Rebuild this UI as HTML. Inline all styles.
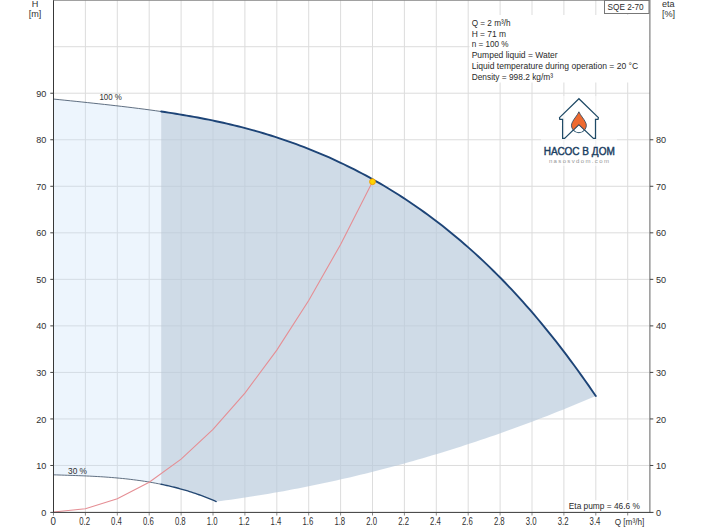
<!DOCTYPE html>
<html><head><meta charset="utf-8"><style>
html,body{margin:0;padding:0;background:#fff;}
body{width:704px;height:528px;overflow:hidden;font-family:"Liberation Sans",sans-serif;}
svg{display:block;}
text{font-family:"Liberation Sans",sans-serif;}
</style></head><body>
<svg width="704" height="528" viewBox="0 0 704 528">
<rect width="704" height="528" fill="#fff"/>
<g stroke="#cdcdcd" stroke-width="1" opacity="0.68">
<line x1="85.40" y1="0" x2="85.40" y2="512"/>
<line x1="117.30" y1="0" x2="117.30" y2="512"/>
<line x1="149.20" y1="0" x2="149.20" y2="512"/>
<line x1="181.10" y1="0" x2="181.10" y2="512"/>
<line x1="213.00" y1="0" x2="213.00" y2="512"/>
<line x1="244.90" y1="0" x2="244.90" y2="512"/>
<line x1="276.80" y1="0" x2="276.80" y2="512"/>
<line x1="308.70" y1="0" x2="308.70" y2="512"/>
<line x1="340.60" y1="0" x2="340.60" y2="512"/>
<line x1="372.50" y1="0" x2="372.50" y2="512"/>
<line x1="404.40" y1="0" x2="404.40" y2="512"/>
<line x1="436.30" y1="0" x2="436.30" y2="512"/>
<line x1="468.20" y1="0" x2="468.20" y2="512"/>
<line x1="500.10" y1="0" x2="500.10" y2="512"/>
<line x1="532.00" y1="0" x2="532.00" y2="512"/>
<line x1="563.90" y1="0" x2="563.90" y2="512"/>
<line x1="595.80" y1="0" x2="595.80" y2="512"/>
<line x1="627.70" y1="0" x2="627.70" y2="512"/>
<line x1="53.5" y1="465.47" x2="650" y2="465.47"/>
<line x1="53.5" y1="418.94" x2="650" y2="418.94"/>
<line x1="53.5" y1="372.41" x2="650" y2="372.41"/>
<line x1="53.5" y1="325.88" x2="650" y2="325.88"/>
<line x1="53.5" y1="279.35" x2="650" y2="279.35"/>
<line x1="53.5" y1="232.82" x2="650" y2="232.82"/>
<line x1="53.5" y1="186.29" x2="650" y2="186.29"/>
<line x1="53.5" y1="139.76" x2="650" y2="139.76"/>
<line x1="53.5" y1="93.23" x2="650" y2="93.23"/>
<line x1="53.5" y1="46.70" x2="650" y2="46.70"/>
</g>
<polygon points="53.50,99.06 59.17,99.64 64.83,100.21 70.50,100.80 76.17,101.39 81.83,101.98 87.50,102.58 93.17,103.19 98.83,103.80 104.50,104.43 110.16,105.06 115.83,105.71 121.50,106.36 127.16,107.04 132.83,107.73 138.50,108.44 144.16,109.17 149.83,109.93 155.50,110.71 161.16,111.52 161.16,484.27 158.40,483.72 155.64,483.19 152.88,482.69 150.12,482.20 147.36,481.74 144.60,481.30 141.84,480.89 139.08,480.49 136.32,480.11 133.56,479.75 130.80,479.41 128.04,479.09 125.28,478.78 122.51,478.49 119.75,478.22 116.99,477.96 114.23,477.72 111.47,477.49 108.71,477.28 105.95,477.08 103.19,476.89 100.43,476.71 97.67,476.55 94.91,476.40 92.15,476.25 89.39,476.12 86.63,475.99 83.87,475.87 81.11,475.76 78.35,475.65 75.58,475.55 72.82,475.46 70.06,475.36 67.30,475.27 64.54,475.18 61.78,475.09 59.02,475.00 56.26,474.92 53.50,474.84" fill="#c3defa" fill-opacity="0.3"/>
<polygon points="161.16,111.52 164.81,112.06 168.47,112.61 172.12,113.17 175.77,113.75 179.42,114.34 183.08,114.95 186.73,115.57 190.38,116.21 194.03,116.87 197.69,117.54 201.34,118.24 204.99,118.95 208.64,119.68 212.30,120.43 215.95,121.20 219.60,121.99 223.25,122.80 226.91,123.63 230.56,124.49 234.21,125.37 237.86,126.27 241.52,127.19 245.17,128.14 248.82,129.11 252.47,130.11 256.13,131.14 259.78,132.18 263.43,133.26 267.08,134.36 270.73,135.49 274.39,136.64 278.04,137.83 281.69,139.04 285.34,140.28 289.00,141.54 292.65,142.84 296.30,144.17 299.95,145.52 303.61,146.91 307.26,148.33 310.91,149.78 314.56,151.26 318.22,152.77 321.87,154.31 325.52,155.88 329.17,157.49 332.83,159.13 336.48,160.81 340.13,162.52 343.78,164.26 347.44,166.04 351.09,167.85 354.74,169.70 358.39,171.58 362.05,173.50 365.70,175.45 369.35,177.45 373.00,179.48 376.66,181.55 380.31,183.65 383.96,185.80 387.61,187.99 391.26,190.21 394.92,192.48 398.57,194.78 402.22,197.13 405.87,199.52 409.53,201.95 413.18,204.43 416.83,206.95 420.48,209.51 424.14,212.11 427.79,214.77 431.44,217.47 435.09,220.21 438.75,223.00 442.40,225.84 446.05,228.73 449.70,231.67 453.36,234.65 457.01,237.69 460.66,240.78 464.31,243.91 467.97,247.11 471.62,250.35 475.27,253.65 478.92,257.00 482.58,260.41 486.23,263.87 489.88,267.39 493.53,270.96 497.18,274.59 500.84,278.28 504.49,282.03 508.14,285.84 511.79,289.71 515.45,293.63 519.10,297.62 522.75,301.67 526.40,305.78 530.06,309.96 533.71,314.19 537.36,318.49 541.01,322.86 544.67,327.28 548.32,331.78 551.97,336.33 555.62,340.95 559.28,345.63 562.93,350.38 566.58,355.19 570.23,360.07 573.89,365.01 577.54,370.02 581.19,375.08 584.84,380.22 588.50,385.41 592.15,390.67 595.80,395.98 595.80,395.98 590.99,398.03 586.19,400.06 581.38,402.07 576.58,404.06 571.77,406.04 566.97,407.99 562.16,409.93 557.36,411.85 552.55,413.75 547.75,415.63 542.94,417.50 538.14,419.34 533.33,421.17 528.53,422.98 523.72,424.77 518.92,426.55 514.11,428.30 509.31,430.04 504.50,431.76 499.70,433.46 494.89,435.14 490.09,436.81 485.28,438.45 480.48,440.08 475.67,441.69 470.87,443.28 466.06,444.86 461.25,446.41 456.45,447.95 451.64,449.47 446.84,450.97 442.03,452.45 437.23,453.91 432.42,455.36 427.62,456.78 422.81,458.19 418.01,459.59 413.20,460.96 408.40,462.31 403.59,463.65 398.79,464.97 393.98,466.27 389.18,467.55 384.37,468.81 379.57,470.06 374.76,471.28 369.96,472.49 365.15,473.68 360.35,474.86 355.54,476.01 350.74,477.15 345.93,478.26 341.12,479.36 336.32,480.45 331.51,481.51 326.71,482.55 321.90,483.58 317.10,484.59 312.29,485.58 307.49,486.55 302.68,487.50 297.88,488.44 293.07,489.36 288.27,490.26 283.46,491.14 278.66,492.00 273.85,492.85 269.05,493.67 264.24,494.48 259.44,495.27 254.63,496.04 249.83,496.79 245.02,497.53 240.22,498.25 235.41,498.95 230.61,499.63 225.80,500.29 221.00,500.93 216.19,501.56 216.19,501.56 214.29,500.73 212.40,499.92 210.50,499.13 208.60,498.36 206.70,497.60 204.81,496.86 202.91,496.14 201.01,495.43 199.11,494.75 197.22,494.08 195.32,493.42 193.42,492.79 191.52,492.17 189.62,491.56 187.73,490.97 185.83,490.40 183.93,489.84 182.03,489.30 180.14,488.78 178.24,488.27 176.34,487.77 174.44,487.28 172.55,486.82 170.65,486.36 168.75,485.92 166.86,485.49 164.96,485.07 163.06,484.66 161.16,484.27" fill="#b7c9db" fill-opacity="0.67"/>
<rect x="469.5" y="15" width="180" height="67.5" fill="#fff"/>
<rect x="566" y="500.3" width="83.3" height="11.4" fill="#fff"/>
<polyline points="53.50,99.06 59.17,99.64 64.83,100.21 70.50,100.80 76.17,101.39 81.83,101.98 87.50,102.58 93.17,103.19 98.83,103.80 104.50,104.43 110.16,105.06 115.83,105.71 121.50,106.36 127.16,107.04 132.83,107.73 138.50,108.44 144.16,109.17 149.83,109.93 155.50,110.71 161.16,111.52" fill="none" stroke="#44566c" stroke-width="0.85"/>
<polyline points="53.50,474.84 56.26,474.92 59.02,475.00 61.78,475.09 64.54,475.18 67.30,475.27 70.06,475.36 72.82,475.46 75.58,475.55 78.35,475.65 81.11,475.76 83.87,475.87 86.63,475.99 89.39,476.12 92.15,476.25 94.91,476.40 97.67,476.55 100.43,476.71 103.19,476.89 105.95,477.08 108.71,477.28 111.47,477.49 114.23,477.72 116.99,477.96 119.75,478.22 122.51,478.49 125.28,478.78 128.04,479.09 130.80,479.41 133.56,479.75 136.32,480.11 139.08,480.49 141.84,480.89 144.60,481.30 147.36,481.74 150.12,482.20 152.88,482.69 155.64,483.19 158.40,483.72 161.16,484.27" fill="none" stroke="#44566c" stroke-width="0.85"/>
<polyline points="53.50,512.00 85.40,508.70 117.30,498.79 149.20,482.27 181.10,459.14 213.00,429.41 244.90,393.07 276.80,350.12 308.70,300.57 340.60,244.41 372.50,181.64" fill="none" stroke="#e58e94" stroke-width="1.1"/>
<polyline points="161.16,111.52 164.81,112.06 168.47,112.61 172.12,113.17 175.77,113.75 179.42,114.34 183.08,114.95 186.73,115.57 190.38,116.21 194.03,116.87 197.69,117.54 201.34,118.24 204.99,118.95 208.64,119.68 212.30,120.43 215.95,121.20 219.60,121.99 223.25,122.80 226.91,123.63 230.56,124.49 234.21,125.37 237.86,126.27 241.52,127.19 245.17,128.14 248.82,129.11 252.47,130.11 256.13,131.14 259.78,132.18 263.43,133.26 267.08,134.36 270.73,135.49 274.39,136.64 278.04,137.83 281.69,139.04 285.34,140.28 289.00,141.54 292.65,142.84 296.30,144.17 299.95,145.52 303.61,146.91 307.26,148.33 310.91,149.78 314.56,151.26 318.22,152.77 321.87,154.31 325.52,155.88 329.17,157.49 332.83,159.13 336.48,160.81 340.13,162.52 343.78,164.26 347.44,166.04 351.09,167.85 354.74,169.70 358.39,171.58 362.05,173.50 365.70,175.45 369.35,177.45 373.00,179.48 376.66,181.55 380.31,183.65 383.96,185.80 387.61,187.99 391.26,190.21 394.92,192.48 398.57,194.78 402.22,197.13 405.87,199.52 409.53,201.95 413.18,204.43 416.83,206.95 420.48,209.51 424.14,212.11 427.79,214.77 431.44,217.47 435.09,220.21 438.75,223.00 442.40,225.84 446.05,228.73 449.70,231.67 453.36,234.65 457.01,237.69 460.66,240.78 464.31,243.91 467.97,247.11 471.62,250.35 475.27,253.65 478.92,257.00 482.58,260.41 486.23,263.87 489.88,267.39 493.53,270.96 497.18,274.59 500.84,278.28 504.49,282.03 508.14,285.84 511.79,289.71 515.45,293.63 519.10,297.62 522.75,301.67 526.40,305.78 530.06,309.96 533.71,314.19 537.36,318.49 541.01,322.86 544.67,327.28 548.32,331.78 551.97,336.33 555.62,340.95 559.28,345.63 562.93,350.38 566.58,355.19 570.23,360.07 573.89,365.01 577.54,370.02 581.19,375.08 584.84,380.22 588.50,385.41 592.15,390.67 595.80,395.98" fill="none" stroke="#1d4477" stroke-width="1.9" stroke-linecap="round"/>
<polyline points="161.16,484.27 163.06,484.66 164.96,485.07 166.86,485.49 168.75,485.92 170.65,486.36 172.55,486.82 174.44,487.28 176.34,487.77 178.24,488.27 180.14,488.78 182.03,489.30 183.93,489.84 185.83,490.40 187.73,490.97 189.62,491.56 191.52,492.17 193.42,492.79 195.32,493.42 197.22,494.08 199.11,494.75 201.01,495.43 202.91,496.14 204.81,496.86 206.70,497.60 208.60,498.36 210.50,499.13 212.40,499.92 214.29,500.73 216.19,501.56" fill="none" stroke="#234772" stroke-width="1.35" stroke-linecap="round"/>
<circle cx="372.5" cy="181.7" r="2.9" fill="#ffd400" stroke="#f0a000" stroke-width="1"/>
<g stroke="#383838" stroke-width="1.2">
<line x1="53.5" y1="0" x2="53.5" y2="512.6" stroke-width="1"/>
<line x1="649.9" y1="0" x2="649.9" y2="512.6" stroke="#6a6a6a" stroke-width="1.05"/>
<line x1="53" y1="512.4" x2="653.5" y2="512.4" stroke-width="1"/>
</g>
<line x1="53.5" y1="0.3" x2="650" y2="0.3" stroke="#8a8a8a" stroke-width="1"/>
<g stroke="#444" stroke-width="1">
<line x1="53.50" y1="513" x2="53.50" y2="515.5" stroke="#8a8a8a"/>
<line x1="85.40" y1="513" x2="85.40" y2="515.5" stroke="#8a8a8a"/>
<line x1="117.30" y1="513" x2="117.30" y2="515.5" stroke="#8a8a8a"/>
<line x1="149.20" y1="513" x2="149.20" y2="515.5" stroke="#8a8a8a"/>
<line x1="181.10" y1="513" x2="181.10" y2="515.5" stroke="#8a8a8a"/>
<line x1="213.00" y1="513" x2="213.00" y2="515.5" stroke="#8a8a8a"/>
<line x1="244.90" y1="513" x2="244.90" y2="515.5" stroke="#8a8a8a"/>
<line x1="276.80" y1="513" x2="276.80" y2="515.5" stroke="#8a8a8a"/>
<line x1="308.70" y1="513" x2="308.70" y2="515.5" stroke="#8a8a8a"/>
<line x1="340.60" y1="513" x2="340.60" y2="515.5" stroke="#8a8a8a"/>
<line x1="372.50" y1="513" x2="372.50" y2="515.5" stroke="#8a8a8a"/>
<line x1="404.40" y1="513" x2="404.40" y2="515.5" stroke="#8a8a8a"/>
<line x1="436.30" y1="513" x2="436.30" y2="515.5" stroke="#8a8a8a"/>
<line x1="468.20" y1="513" x2="468.20" y2="515.5" stroke="#8a8a8a"/>
<line x1="500.10" y1="513" x2="500.10" y2="515.5" stroke="#8a8a8a"/>
<line x1="532.00" y1="513" x2="532.00" y2="515.5" stroke="#8a8a8a"/>
<line x1="563.90" y1="513" x2="563.90" y2="515.5" stroke="#8a8a8a"/>
<line x1="595.80" y1="513" x2="595.80" y2="515.5" stroke="#8a8a8a"/>
<line x1="627.70" y1="513" x2="627.70" y2="515.5" stroke="#8a8a8a"/>
<line x1="50.3" y1="465.47" x2="53.5" y2="465.47"/>
<line x1="50.3" y1="418.94" x2="53.5" y2="418.94"/>
<line x1="50.3" y1="372.41" x2="53.5" y2="372.41"/>
<line x1="50.3" y1="325.88" x2="53.5" y2="325.88"/>
<line x1="50.3" y1="279.35" x2="53.5" y2="279.35"/>
<line x1="50.3" y1="232.82" x2="53.5" y2="232.82"/>
<line x1="50.3" y1="186.29" x2="53.5" y2="186.29"/>
<line x1="50.3" y1="139.76" x2="53.5" y2="139.76"/>
<line x1="50.3" y1="93.23" x2="53.5" y2="93.23"/>
<line x1="650" y1="465.47" x2="653.3" y2="465.47"/>
<line x1="650" y1="418.94" x2="653.3" y2="418.94"/>
<line x1="650" y1="372.41" x2="653.3" y2="372.41"/>
<line x1="650" y1="325.88" x2="653.3" y2="325.88"/>
<line x1="650" y1="279.35" x2="653.3" y2="279.35"/>
<line x1="650" y1="232.82" x2="653.3" y2="232.82"/>
<line x1="650" y1="186.29" x2="653.3" y2="186.29"/>
<line x1="650" y1="139.76" x2="653.3" y2="139.76"/>
<line x1="50.3" y1="512.4" x2="53.5" y2="512.4"/>
</g>
<g font-size="9.8" fill="#303030">
<text transform="translate(53.20,524.90) scale(0.930,1)" text-anchor="middle" font-size="10.5">0</text>
<text x="84.60" y="524.9" font-size="10.5" text-anchor="middle" textLength="10.8" lengthAdjust="spacingAndGlyphs">0.2</text>
<text x="116.50" y="524.9" font-size="10.5" text-anchor="middle" textLength="10.8" lengthAdjust="spacingAndGlyphs">0.4</text>
<text x="148.40" y="524.9" font-size="10.5" text-anchor="middle" textLength="10.8" lengthAdjust="spacingAndGlyphs">0.6</text>
<text x="180.30" y="524.9" font-size="10.5" text-anchor="middle" textLength="10.8" lengthAdjust="spacingAndGlyphs">0.8</text>
<text x="212.20" y="524.9" font-size="10.5" text-anchor="middle" textLength="10.8" lengthAdjust="spacingAndGlyphs">1.0</text>
<text x="244.10" y="524.9" font-size="10.5" text-anchor="middle" textLength="10.8" lengthAdjust="spacingAndGlyphs">1.2</text>
<text x="276.00" y="524.9" font-size="10.5" text-anchor="middle" textLength="10.8" lengthAdjust="spacingAndGlyphs">1.4</text>
<text x="307.90" y="524.9" font-size="10.5" text-anchor="middle" textLength="10.8" lengthAdjust="spacingAndGlyphs">1.6</text>
<text x="339.80" y="524.9" font-size="10.5" text-anchor="middle" textLength="10.8" lengthAdjust="spacingAndGlyphs">1.8</text>
<text x="371.70" y="524.9" font-size="10.5" text-anchor="middle" textLength="10.8" lengthAdjust="spacingAndGlyphs">2.0</text>
<text x="403.60" y="524.9" font-size="10.5" text-anchor="middle" textLength="10.8" lengthAdjust="spacingAndGlyphs">2.2</text>
<text x="435.50" y="524.9" font-size="10.5" text-anchor="middle" textLength="10.8" lengthAdjust="spacingAndGlyphs">2.4</text>
<text x="467.40" y="524.9" font-size="10.5" text-anchor="middle" textLength="10.8" lengthAdjust="spacingAndGlyphs">2.6</text>
<text x="499.30" y="524.9" font-size="10.5" text-anchor="middle" textLength="10.8" lengthAdjust="spacingAndGlyphs">2.8</text>
<text x="531.20" y="524.9" font-size="10.5" text-anchor="middle" textLength="10.8" lengthAdjust="spacingAndGlyphs">3.0</text>
<text x="563.10" y="524.9" font-size="10.5" text-anchor="middle" textLength="10.8" lengthAdjust="spacingAndGlyphs">3.2</text>
<text x="595.00" y="524.9" font-size="10.5" text-anchor="middle" textLength="10.8" lengthAdjust="spacingAndGlyphs">3.4</text>
<text transform="translate(46.30,515.60) scale(0.930,1)" text-anchor="end">0</text>
<text transform="translate(46.30,469.07) scale(0.930,1)" text-anchor="end">10</text>
<text transform="translate(46.30,422.54) scale(0.930,1)" text-anchor="end">20</text>
<text transform="translate(46.30,376.01) scale(0.930,1)" text-anchor="end">30</text>
<text transform="translate(46.30,329.48) scale(0.930,1)" text-anchor="end">40</text>
<text transform="translate(46.30,282.95) scale(0.930,1)" text-anchor="end">50</text>
<text transform="translate(46.30,236.42) scale(0.930,1)" text-anchor="end">60</text>
<text transform="translate(46.30,189.89) scale(0.930,1)" text-anchor="end">70</text>
<text transform="translate(46.30,143.36) scale(0.930,1)" text-anchor="end">80</text>
<text transform="translate(46.30,96.83) scale(0.930,1)" text-anchor="end">90</text>
<text transform="translate(656.00,515.60) scale(0.930,1)" text-anchor="start">0</text>
<text transform="translate(656.00,469.07) scale(0.930,1)" text-anchor="start">10</text>
<text transform="translate(656.00,422.54) scale(0.930,1)" text-anchor="start">20</text>
<text transform="translate(656.00,376.01) scale(0.930,1)" text-anchor="start">30</text>
<text transform="translate(656.00,329.48) scale(0.930,1)" text-anchor="start">40</text>
<text transform="translate(656.00,282.95) scale(0.930,1)" text-anchor="start">50</text>
<text transform="translate(656.00,236.42) scale(0.930,1)" text-anchor="start">60</text>
<text transform="translate(656.00,189.89) scale(0.930,1)" text-anchor="start">70</text>
<text transform="translate(656.00,143.36) scale(0.930,1)" text-anchor="start">80</text>
<text transform="translate(35.00,6.90) scale(0.930,1)" text-anchor="middle">H</text>
<text transform="translate(35.00,17.00) scale(0.930,1)" text-anchor="middle">[m]</text>
<text transform="translate(662.00,6.90) scale(0.930,1)" text-anchor="start">eta</text>
<text transform="translate(662.00,17.00) scale(0.930,1)" text-anchor="start">[%]</text>
<text x="614.7" y="524.7" textLength="29.6" lengthAdjust="spacingAndGlyphs">Q [m³/h]</text>
<text x="99.4" y="100.3" textLength="22.5" lengthAdjust="spacingAndGlyphs">100 %</text>
<text x="68" y="474.2" textLength="19" lengthAdjust="spacingAndGlyphs">30 %</text>
</g>
<rect x="604.5" y="0.5" width="44.5" height="13" fill="#fff" stroke="#777" stroke-width="1"/>
<g font-size="9.9" fill="#2a2a2a">
<text x="607.60" y="10.30" textLength="36.0" lengthAdjust="spacingAndGlyphs">SQE 2-70</text>
<text x="471.70" y="25.80" textLength="38.8" lengthAdjust="spacingAndGlyphs">Q = 2 m³/h</text>
<text x="471.70" y="36.60" textLength="34.4" lengthAdjust="spacingAndGlyphs">H = 71 m</text>
<text x="471.70" y="47.40" textLength="36.9" lengthAdjust="spacingAndGlyphs">n = 100 %</text>
<text x="471.70" y="58.20" textLength="85.9" lengthAdjust="spacingAndGlyphs">Pumped liquid = Water</text>
<text x="471.70" y="69.00" textLength="166.5" lengthAdjust="spacingAndGlyphs">Liquid temperature during operation = 20 °C</text>
<text x="471.70" y="79.70" textLength="81.3" lengthAdjust="spacingAndGlyphs">Density = 998.2 kg/m³</text>
<text x="568.80" y="508.70" textLength="71.0" lengthAdjust="spacingAndGlyphs">Eta pump = 46.6 %</text>
</g>
<!-- logo -->
<rect x="541" y="96" width="76" height="70" fill="#fff" opacity="0.55"/>
<g fill="none" stroke="#1f4a66" stroke-width="1.25" stroke-linejoin="miter">
<path d="M578.9 98.7 L559.5 117.6 L559.8 119.4 L562.6 119.4 L562.6 138.4 L564.6 138.4 L578.9 124.6 L593.4 138.4 L595.5 138.4 L595.5 119.4 L598.0 119.4 L598.4 117.6 Z"/>
<path d="M573.22 129.99 A7.3 7.3 0 0 0 584.58 129.99" stroke-width="1.05"/>
</g>
<path d="M578.9 111.8 C577.6 115 573.6 119.4 572.74 121.48 A7.3 7.3 0 0 0 573.22 129.99 L578.9 124.5 L584.58 129.99 A7.3 7.3 0 0 0 585.06 121.48 C584.2 119.4 580.2 115 578.9 111.8 Z" fill="#ee6a30" stroke="#2f4860" stroke-width="0.85" stroke-linejoin="round"/>
<text x="579.3" y="154.5" font-size="10" font-weight="normal" fill="#1c4062" stroke="#1c4062" stroke-width="0.42" text-anchor="middle" textLength="71" lengthAdjust="spacingAndGlyphs">НАСОС В ДОМ</text>
<text x="578.9" y="162.8" font-size="6" fill="#959595" text-anchor="middle" textLength="60" lengthAdjust="spacing">nasosvdom.com</text>
</svg>
</body></html>
